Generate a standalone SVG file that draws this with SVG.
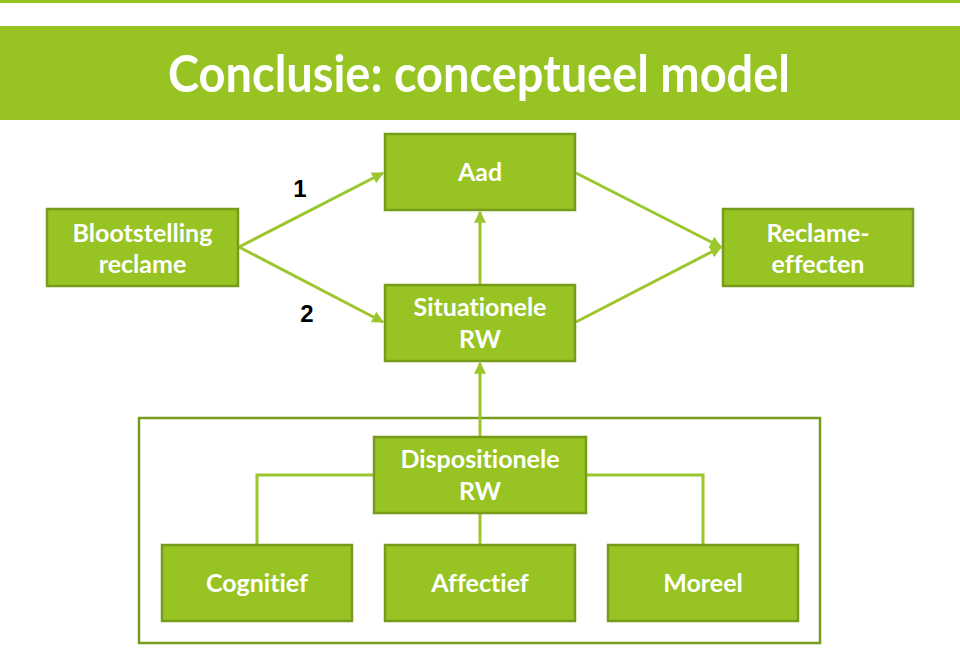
<svg xmlns="http://www.w3.org/2000/svg" width="960" height="651" viewBox="0 0 960 651">
<style>
.node rect{fill:#98C423;stroke:#779C1C;stroke-width:2.5}
.node text{fill:#fff;font-family:Lato,"Open Sans","Liberation Sans",sans-serif;font-weight:bold;font-size:25px;text-anchor:middle;font-variant-ligatures:none}
.conn{fill:none;stroke:#9CC62E;stroke-width:3}
.num{font-family:"Liberation Sans",Arial,sans-serif;font-weight:bold;font-size:24px;fill:#000;text-anchor:middle}
</style>
<defs>
<marker id="arr" viewBox="0 0 10 10" refX="9" refY="5" markerWidth="4" markerHeight="4" orient="auto" markerUnits="strokeWidth">
<path d="M0,0 L10,5 L0,10 z" fill="#9CC62E"/>
</marker>
</defs>
<rect width="960" height="651" fill="#fff"/>
<rect x="0" y="0" width="960" height="3" fill="#98C423"/>
<g id="title">
<rect x="0" y="26" width="960" height="94" fill="#98C423"/>
<text x="479" y="92" font-family="Lato,'Open Sans','Liberation Sans',sans-serif" font-weight="bold" font-size="51" fill="#fff" text-anchor="middle" textLength="622" lengthAdjust="spacingAndGlyphs">Conclusie: conceptueel model</text>
</g>
<g id="container"><rect x="139" y="418" width="681" height="225" fill="none" stroke="#779C1C" stroke-width="2.5"/></g>
<g id="connectors">
<line class="conn" x1="239" y1="247" x2="383" y2="173" marker-end="url(#arr)"/>
<line class="conn" x1="239" y1="247" x2="383" y2="322" marker-end="url(#arr)"/>
<line class="conn" x1="576" y1="173" x2="721" y2="247" marker-end="url(#arr)"/>
<line class="conn" x1="576" y1="322" x2="721" y2="247" marker-end="url(#arr)"/>
<line class="conn" x1="480" y1="285" x2="480" y2="212" marker-end="url(#arr)"/>
<line class="conn" x1="480" y1="437" x2="480" y2="363" marker-end="url(#arr)"/>
<polyline class="conn" points="374,475 257,475 257,545"/>
<polyline class="conn" points="586,475 703,475 703,545"/>
<line class="conn" x1="480" y1="513" x2="480" y2="545"/>
<text class="num" x="300" y="197">1</text>
<text class="num" x="307" y="322">2</text>
</g>
<g id="blootstelling" class="node"><rect x="47" y="209" width="191" height="77"/><text x="142.5" y="242">Blootstelling</text><text x="142.5" y="273">reclame</text></g>
<g id="aad" class="node"><rect x="385" y="134" width="190" height="76"/><text x="480" y="181">Aad</text></g>
<g id="situationele" class="node"><rect x="385" y="285" width="190" height="76"/><text x="480" y="316">Situationele</text><text x="480" y="348">RW</text></g>
<g id="reclame" class="node"><rect x="723" y="209" width="190" height="77"/><text x="818" y="242">Reclame-</text><text x="818" y="273">effecten</text></g>
<g id="dispositionele" class="node"><rect x="374" y="437" width="212" height="76"/><text x="480" y="468">Dispositionele</text><text x="480" y="500">RW</text></g>
<g id="cognitief" class="node"><rect x="162" y="545" width="190" height="76"/><text x="257" y="592">Cognitief</text></g>
<g id="affectief" class="node"><rect x="385" y="545" width="190" height="76"/><text x="480" y="592">Affectief</text></g>
<g id="moreel" class="node"><rect x="608" y="545" width="190" height="76"/><text x="703" y="592">Moreel</text></g>
</svg>
